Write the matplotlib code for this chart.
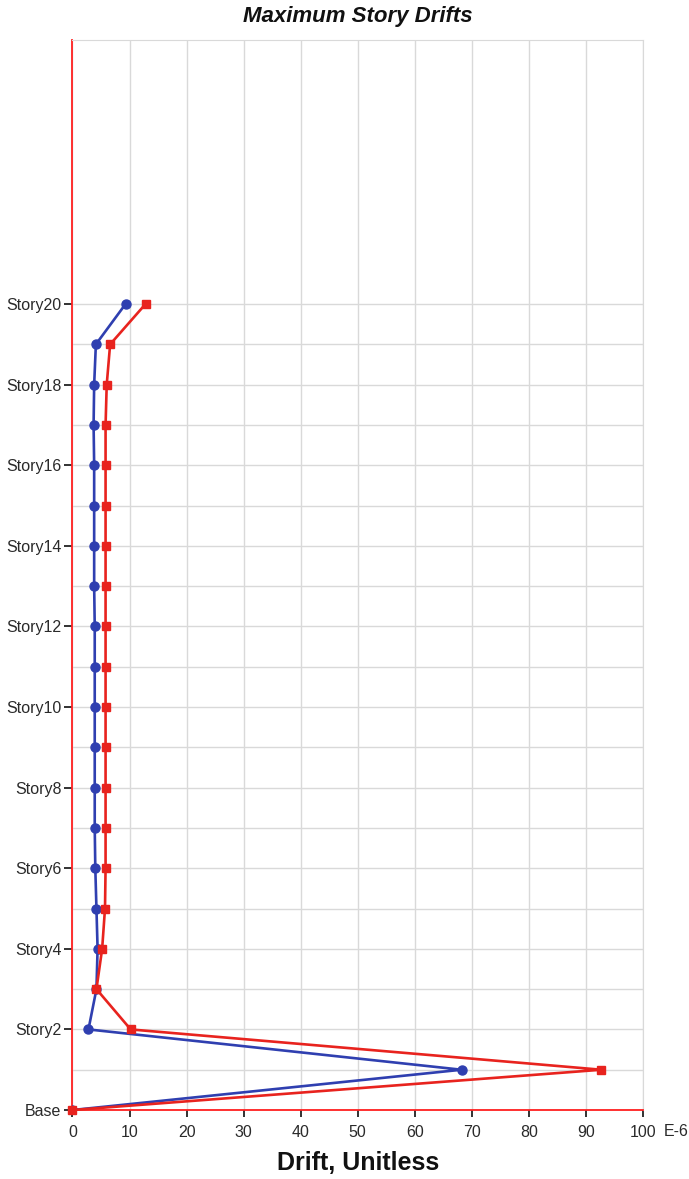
import matplotlib.pyplot as plt
import numpy as np

plt.rcParams['font.family'] = ['Liberation Sans', 'DejaVu Sans']

# story levels: Base = 0, Story1..Story20 = 1..20
levels = np.arange(0, 21)
story_names = ['Base'] + [f'Story{i}' for i in range(1, 21)]

# maximum drifts (x 1E-6)
drift_x = [0, 68.2, 2.8, 4.2, 4.4, 4.2, 4.0, 3.9, 3.9, 3.9, 3.9,
           3.9, 3.9, 3.8, 3.8, 3.8, 3.8, 3.7, 3.8, 4.1, 9.3]
drift_y = [0, 92.7, 10.2, 4.2, 5.2, 5.7, 5.8, 5.8, 5.8, 5.8, 5.8,
           5.8, 5.8, 5.8, 5.8, 5.8, 5.8, 5.8, 6.0, 6.6, 12.8]

x_ticks = np.arange(0, 101, 10)

fig = plt.figure(figsize=(6.89, 11.79), dpi=100)
ax = fig.add_axes([0.1052, 0.0585, 0.8280, 0.9075])

ax.plot(drift_x, levels, color='#2f3fb0', lw=1.9, marker='o', ms=6.5, zorder=3)
ax.plot(drift_y, levels, color='#e8231e', lw=1.9, marker='s', ms=6, zorder=4,
        clip_on=False)

ax.set_xlim(0, 100)
ax.set_ylim(0, 26.55)

ax.set_xticks(x_ticks)
ax.set_yticks(levels[::2])
ax.set_yticklabels(story_names[::2])
ax.set_yticks(levels[1::2], minor=True)

ax.tick_params(axis='both', which='major', labelsize=11.5, color='#222222',
               length=6, width=1.3, labelcolor='#2a2a2a')
ax.tick_params(axis='y', which='minor', length=0)
ax.tick_params(axis='y', which='major', pad=2)
ax.tick_params(axis='x', which='major', pad=6, length=5)

ax.grid(True, which='both', color='#d9d9d9', lw=1.0, zorder=0)
ax.set_axisbelow(True)

for side in ('top', 'right'):
    ax.spines[side].set_color('#d9d9d9')
ax.spines['left'].set_color('#ff2020')
ax.spines['bottom'].set_color('#ff2020')
ax.spines['left'].set_linewidth(1.3)
ax.spines['bottom'].set_linewidth(1.3)

ax.text(1.036, -0.0205, 'E-6', transform=ax.transAxes, fontsize=11.5,
        color='#2a2a2a', ha='left', va='center')

ax.set_xlabel('Drift, Unitless', fontsize=18, fontweight='bold', labelpad=8,
              color='#111111')
ax.set_title('Maximum Story Drifts', fontsize=16, fontweight='bold',
             style='italic', pad=13, color='#111111')

fig.savefig('out.png', dpi=100)
